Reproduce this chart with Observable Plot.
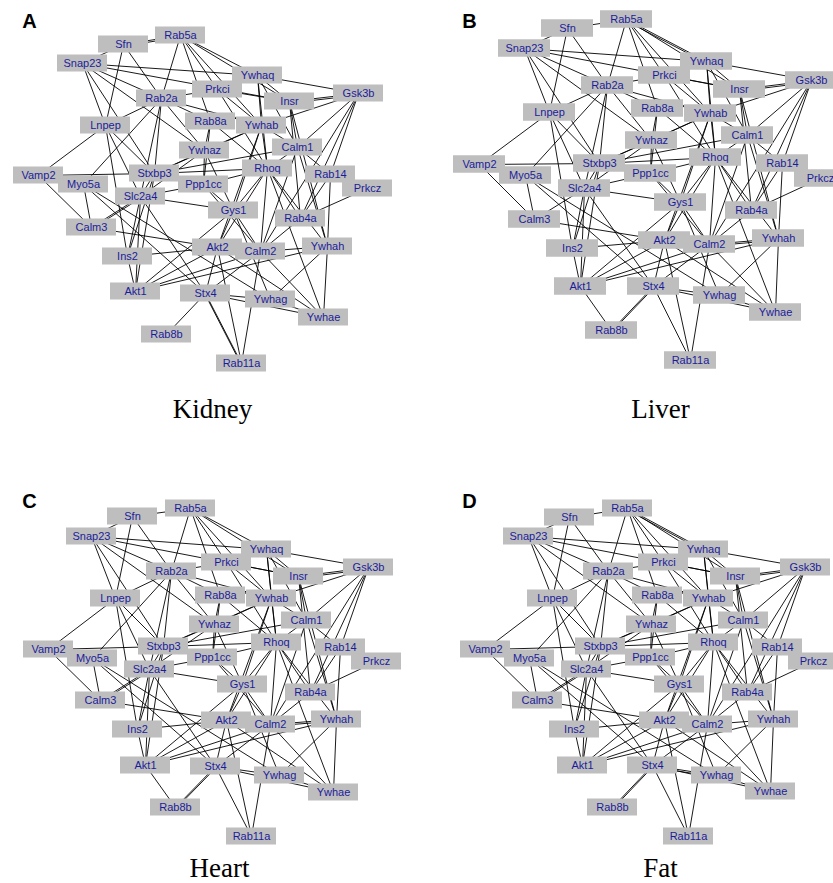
<!DOCTYPE html>
<html>
<head>
<meta charset="utf-8">
<script src="https://cdn.jsdelivr.net/npm/d3@7"></script>
<script src="https://cdn.jsdelivr.net/npm/@observablehq/plot@0.6"></script>
<style>
  html, body { margin: 0; padding: 0; background: #fff; overflow: hidden; }
</style>
</head>
<body>
<div id="chart"></div>
<script>
// ---- Data ----
const tissues = ["Kidney", "Liver", "Heart", "Fat"];
const panelLetters = ["A", "B", "C", "D"];

// node layouts (panel-local coordinates): [gene, x, y]
const kidneyNodes = [
  ["Sfn",123,44],["Rab5a",180,35],["Snap23",82,63],["Ywhaq",257,75],["Prkci",217,89],
  ["Rab2a",161,98],["Insr",289,101],["Gsk3b",358,93],["Lnpep",105,125],["Rab8a",210,121],
  ["Ywhab",261,125],["Calm1",297,147],["Ywhaz",204,150],["Rhoq",267,168],["Rab14",330,174],
  ["Vamp2",38,175],["Stxbp3",154,173],["Ppp1cc",203,184],["Myo5a",83,184],["Prkcz",367,188],
  ["Slc2a4",140,196],["Gys1",233,210],["Rab4a",300,218],["Calm3",91,227],["Akt2",217,247],
  ["Calm2",260,251],["Ywhah",327,246],["Ins2",127,256],["Akt1",135,291],["Stx4",205,293],
  ["Ywhag",270,299],["Ywhae",323,317],["Rab8b",166,334],["Rab11a",241,363]
];
const liverNodes = [
  ["Sfn",127,28],["Rab5a",186,19],["Snap23",84,48],["Ywhaq",266,61],["Prkci",224,75],
  ["Rab2a",167,85],["Insr",299,89],["Gsk3b",371,80],["Lnpep",109,112],["Rab8a",217,108],
  ["Ywhab",270,113],["Calm1",307,135],["Ywhaz",211,140],["Rhoq",275,157],["Rab14",342,163],
  ["Vamp2",39,164],["Stxbp3",159,163],["Ppp1cc",210,173],["Myo5a",85,175],["Prkcz",380,178],
  ["Slc2a4",144,188],["Gys1",240,202],["Rab4a",311,210],["Calm3",94,219],["Akt2",224,240],
  ["Calm2",269,244],["Ywhah",338,238],["Ins2",132,248],["Akt1",140,286],["Stx4",213,286],
  ["Ywhag",279,295],["Ywhae",335,312],["Rab8b",171,330],["Rab11a",250,360]
];
const heartNodes = [
  ["Sfn",132,36],["Rab5a",190,28],["Snap23",91,56],["Ywhaq",266,69],["Prkci",226,82],
  ["Rab2a",171,91],["Insr",298,96],["Gsk3b",368,87],["Lnpep",115,118],["Rab8a",220,115],
  ["Ywhab",271,118],["Calm1",306,140],["Ywhaz",214,144],["Rhoq",276,162],["Rab14",340,167],
  ["Vamp2",48,169],["Stxbp3",163,166],["Ppp1cc",212,177],["Myo5a",92,178],["Prkcz",376,181],
  ["Slc2a4",149,189],["Gys1",242,204],["Rab4a",310,212],["Calm3",100,220],["Akt2",226,240],
  ["Calm2",270,244],["Ywhah",336,239],["Ins2",137,249],["Akt1",145,285],["Stx4",215,286],
  ["Ywhag",279,295],["Ywhae",333,312],["Rab8b",175,327],["Rab11a",251,356]
];
const fatNodes = [
  ["Sfn",129,37],["Rab5a",187,28],["Snap23",88,56],["Ywhaq",263,69],["Prkci",223,82],
  ["Rab2a",168,91],["Insr",295,96],["Gsk3b",365,87],["Lnpep",112,118],["Rab8a",217,115],
  ["Ywhab",268,118],["Calm1",303,140],["Ywhaz",211,144],["Rhoq",273,162],["Rab14",337,167],
  ["Vamp2",45,169],["Stxbp3",160,166],["Ppp1cc",210,177],["Myo5a",89,178],["Prkcz",373,181],
  ["Slc2a4",146,189],["Gys1",239,204],["Rab4a",307,212],["Calm3",97,220],["Akt2",224,240],
  ["Calm2",267,244],["Ywhah",333,239],["Ins2",134,249],["Akt1",142,285],["Stx4",212,285],
  ["Ywhag",276,295],["Ywhae",330,311],["Rab8b",172,327],["Rab11a",248,356]
];

// interactions shared by all tissues
const sharedEdges = [
  ["Sfn","Rab5a"],["Sfn","Snap23"],["Sfn","Lnpep"],["Sfn","Rab2a"],
  ["Rab5a","Rab2a"],["Rab5a","Prkci"],["Rab5a","Rab8a"],["Rab5a","Ywhaq"],["Rab5a","Ywhab"],["Rab5a","Insr"],
  ["Snap23","Ywhaq"],["Snap23","Insr"],["Snap23","Rab2a"],["Snap23","Lnpep"],["Snap23","Ywhaz"],["Snap23","Stxbp3"],
  ["Prkci","Rab2a"],["Prkci","Insr"],["Prkci","Rhoq"],["Prkci","Ywhab"],
  ["Ywhaq","Gsk3b"],["Ywhaq","Insr"],["Ywhaq","Calm1"],["Ywhaq","Rhoq"],["Ywhaq","Ywhab"],
  ["Insr","Gsk3b"],["Gsk3b","Ywhab"],["Gsk3b","Calm1"],["Gsk3b","Rab14"],["Gsk3b","Rab4a"],["Gsk3b","Calm2"],
  ["Rab2a","Rab8a"],["Rab2a","Ywhab"],["Rab2a","Lnpep"],["Rab2a","Myo5a"],["Rab2a","Ywhaz"],["Rab2a","Stxbp3"],["Rab2a","Slc2a4"],
  ["Rab8a","Ywhaz"],["Rab8a","Rhoq"],["Rab8a","Ppp1cc"],
  ["Ywhab","Ywhaz"],["Ywhab","Calm1"],["Ywhab","Gys1"],["Ywhab","Akt2"],["Ywhab","Stxbp3"],["Ywhab","Rhoq"],
  ["Insr","Calm1"],["Insr","Ywhah"],["Insr","Rab4a"],
  ["Lnpep","Vamp2"],["Lnpep","Slc2a4"],["Lnpep","Stxbp3"],["Lnpep","Ins2"],
  ["Vamp2","Stxbp3"],["Vamp2","Calm3"],
  ["Stxbp3","Ywhaz"],["Stxbp3","Rhoq"],["Stxbp3","Slc2a4"],["Stxbp3","Akt1"],["Stxbp3","Ins2"],
  ["Calm1","Rab14"],["Calm1","Ywhah"],["Calm1","Calm2"],["Calm1","Rhoq"],["Calm1","Stxbp3"],
  ["Ywhaz","Ppp1cc"],["Ywhaz","Gys1"],["Ywhaz","Slc2a4"],
  ["Rhoq","Gys1"],["Rhoq","Akt2"],["Rhoq","Calm2"],["Rhoq","Ywhah"],["Rhoq","Rab4a"],["Rhoq","Ywhae"],
  ["Rab14","Rab4a"],["Rab14","Ywhah"],["Rab14","Prkcz"],
  ["Myo5a","Calm3"],["Myo5a","Ywhag"],["Myo5a","Stx4"],["Myo5a","Vamp2"],
  ["Ppp1cc","Slc2a4"],["Ppp1cc","Gys1"],["Ppp1cc","Calm2"],["Ppp1cc","Rhoq"],
  ["Slc2a4","Calm3"],["Slc2a4","Gys1"],["Slc2a4","Ins2"],["Slc2a4","Akt1"],["Slc2a4","Stx4"],
  ["Gys1","Akt2"],["Gys1","Calm2"],["Gys1","Ywhag"],["Gys1","Akt1"],
  ["Rab4a","Prkcz"],["Rab4a","Calm2"],
  ["Calm3","Akt2"],
  ["Akt2","Ins2"],["Akt2","Akt1"],["Akt2","Stx4"],["Akt2","Rab11a"],["Akt2","Ywhae"],
  ["Calm2","Akt1"],["Calm2","Ywhah"],["Calm2","Ywhae"],["Calm2","Rab11a"],["Calm2","Stx4"],
  ["Ywhah","Ywhag"],["Ywhah","Ywhae"],["Ywhah","Akt1"],
  ["Ins2","Akt1"],
  ["Stx4","Rab8b"],["Stx4","Rab11a"],["Stx4","Ywhag"],["Stx4","Ywhae"],
  ["Ywhag","Ywhae"]
];
// tissue-specific extra interactions
const kidneyExtra = [["Stx4","Rab11a"],["Sfn","Rab5a"],["Insr","Gsk3b"],["Slc2a4","Calm3"]];
const liverExtra  = [["Akt1","Rab8b"],["Stx4","Rab8b"],["Rab5a","Ywhaq"],["Calm2","Ywhah"],["Insr","Gsk3b"]];
const heartExtra  = [["Akt1","Rab8b"],["Stx4","Rab8b"],["Slc2a4","Calm3"],["Insr","Gsk3b"],["Calm2","Ywhah"]];
const fatExtra    = [["Stx4","Rab8b"],["Stx4","Ywhag"],["Rab5a","Ywhaq"],["Insr","Gsk3b"],["Slc2a4","Calm3"]];

// ---- Layout (not data) ----
const panelLayout = [
  {ox: 0,   oy: 0,   boxW: 50, boxH: 17,   tx: 212, ty: 417},
  {ox: 440, oy: 0,   boxW: 52, boxH: 17.5, tx: 660, ty: 417},
  {ox: 0,   oy: 480, boxW: 50, boxH: 17,   tx: 219, ty: 876},
  {ox: 440, oy: 480, boxW: 50, boxH: 17,   tx: 660, ty: 876}
];
const nodeSets = [kidneyNodes, liverNodes, heartNodes, fatNodes];
const edgeSets = [
  sharedEdges.concat(kidneyExtra),
  sharedEdges.concat(liverExtra),
  sharedEdges.concat(heartExtra),
  sharedEdges.concat(fatExtra)
];

const nodes = [];
const links = [];
nodeSets.forEach((set, i) => {
  const L = panelLayout[i];
  const pos = new Map();
  set.forEach(([name, x, y]) => {
    const n = {panel: i, name, x: L.ox + x, y: L.oy + y, w: L.boxW, h: L.boxH};
    pos.set(name, n);
    nodes.push(n);
  });
  edgeSets[i].forEach(([a, b], k) => {
    const A = pos.get(a), B = pos.get(b);
    if (!A || !B) return;
    const dup = edgeSets[i].slice(0, k).some(([p, q]) => (p === a && q === b) || (p === b && q === a));
    const o = dup ? 1.6 : 0;
    links.push({x1: A.x, y1: A.y + o, x2: B.x, y2: B.y + o});
  });
});

const panels = panelLayout.map((L, i) => ({
  letter: panelLetters[i], title: tissues[i],
  lx: L.ox + 29, ly: L.oy + 21, tx: L.tx, ty: L.ty
}));

const W = 833, H = 883;
const chart = Plot.plot({
  width: W, height: H,
  margin: 0,
  x: {domain: [0, W], range: [0, W], axis: null},
  y: {domain: [0, H], range: [0, H], axis: null},
  style: {background: "#fff", overflow: "hidden"},
  marks: [
    Plot.link(links, {x1: "x1", y1: "y1", x2: "x2", y2: "y2", stroke: "#000", strokeWidth: 0.9}),
    Plot.rect(nodes, {
      x1: d => d.x - d.w / 2, x2: d => d.x + d.w / 2,
      y1: d => d.y - d.h / 2, y2: d => d.y + d.h / 2,
      fill: "#bebebe"
    }),
    Plot.text(nodes, {
      x: "x", y: "y", text: "name", fill: "#1c1c9a",
      fontSize: 11, fontFamily: "Liberation Sans, Arial, sans-serif"
    }),
    Plot.text(panels, {
      x: "lx", y: "ly", text: "letter", fill: "#000",
      fontSize: 20, fontWeight: "bold", fontFamily: "Liberation Sans, Arial, sans-serif"
    }),
    Plot.text(panels, {
      x: "tx", y: "ty", text: "title", fill: "#000", lineAnchor: "bottom",
      fontSize: 27, fontFamily: "Liberation Serif, Times New Roman, serif"
    })
  ]
});
document.getElementById("chart").appendChild(chart);
</script>
</body>
</html>
